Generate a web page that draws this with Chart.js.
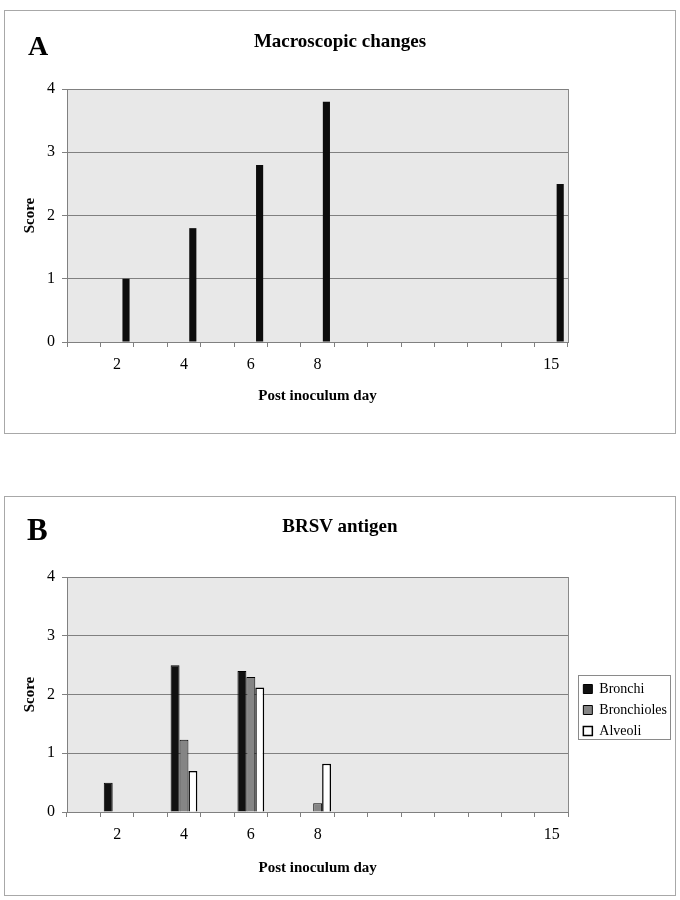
<!DOCTYPE html>
<html>
<head>
<meta charset="utf-8">
<script src="https://cdn.jsdelivr.net/npm/chart.js@4.4.1/dist/chart.umd.min.js"></script>
<style>
  body { margin: 0; background: #fff; width: 680px; height: 900px; position: relative; font-family: "Liberation Serif", serif; }
  .panel { position: absolute; left: 4px; width: 670px; border: 1px solid #a8a8a8; background: #fff; }
  #panelA { top: 10px; height: 422px; }
  #panelB { top: 496px; height: 398px; }
  .panel canvas { position: absolute; left: 0; top: 0; }
  .letter { position: absolute; font-weight: bold; }
  .title { position: absolute; left: 0; width: 100%; text-align: center; font-weight: bold; font-size: 19px; line-height: 19px; }
</style>
</head>
<body>
<div class="panel" id="panelA">
  <canvas id="chartA" width="670" height="422" style="width:670px;height:422px"></canvas>
  <div class="letter" style="left:23px;top:21px;font-size:28px;line-height:28px">A</div>
  <div class="title" style="top:20px">Macroscopic changes</div>
</div>
<div class="panel" id="panelB">
  <canvas id="chartB" width="670" height="398" style="width:670px;height:398px"></canvas>
  <div class="letter" style="left:22px;top:17px;font-size:31px;line-height:31px">B</div>
  <div class="title" style="top:19px">BRSV antigen</div>
</div>
<script>
// x axis runs day 1..15, only some days are labelled
const days = [1, 2, 3, 4, 5, 6, 7, 8, 9, 10, 11, 12, 13, 14, 15];
const labelledDays = [2, 4, 6, 8, 15];

// A: macroscopic changes
const macroDays = [2, 4, 6, 8, 15];
const macroScore = [1.0, 1.8, 2.8, 3.8, 2.5];

// B: BRSV antigen
const antigenDays = [2, 4, 6, 8];
const bronchi = [0.5, 2.5, 2.4, 0];
const bronchioles = [0, 1.23, 2.3, 0.15];
const alveoli = [0, 0.7, 2.12, 0.82];

const serif = "'Liberation Serif', 'Times New Roman', serif";

function toSeries(d, v) {
  return days.map(day => {
    const i = d.indexOf(day);
    return i < 0 ? null : v[i];
  });
}

const plotBackground = {
  id: "plotBackground",
  beforeDraw(chart) {
    const { ctx, chartArea: a } = chart;
    ctx.save();
    ctx.fillStyle = "#e8e8e8";
    ctx.fillRect(a.left, a.top, a.right - a.left, a.bottom - a.top);
    ctx.restore();
  },
  beforeDatasetsDraw(chart) {
    const { ctx, chartArea: a } = chart;
    ctx.save();
    ctx.strokeStyle = "#8a8a8a";
    ctx.lineWidth = 1;
    ctx.beginPath();
    ctx.moveTo(Math.round(a.right) + 0.5, a.top);
    ctx.lineTo(Math.round(a.right) + 0.5, a.bottom);
    ctx.stroke();
    ctx.restore();
  }
};

// nudge the legend into place, like Excel's free-floating legend box
const legendPlace = {
  id: "legendPlace",
  afterLayout(chart) {
    const lg = chart.legend;
    if (!lg) return;
    const h = lg.bottom - lg.top;
    lg.left += 8;
    lg.right += 8;
    lg.top = 178;
    lg.bottom = 178 + h;
  }
};

const legendBox = {
  id: "legendBox",
  afterDraw(chart) {
    const lg = chart.legend;
    if (!lg || !lg.options.display || !lg.legendHitBoxes.length) return;
    const boxes = lg.legendHitBoxes;
    const x0 = Math.min(...boxes.map(b => b.left)) - 5;
    const y0 = Math.min(...boxes.map(b => b.top)) - 7;
    const x1 = Math.max(...boxes.map(b => b.left + b.width)) + 3;
    const y1 = Math.max(...boxes.map(b => b.top + b.height)) + 1;
    const ctx = chart.ctx;
    ctx.save();
    ctx.strokeStyle = "#8a8a8a";
    ctx.lineWidth = 1;
    ctx.strokeRect(Math.round(x0) + 0.5, Math.round(y0) + 0.5, Math.round(x1 - x0), Math.round(y1 - y0));
    ctx.restore();
  }
};

function scales(xHeight, xPad, titlePadBottom) {
  return {
    x: {
      afterFit: s => { s.height = xHeight; },
      grid: { display: true, offset: true, drawOnChartArea: false, tickLength: 5, color: "#808080" },
      border: { color: "#808080" },
      ticks: {
        autoSkip: false, maxRotation: 0, padding: xPad, color: "#000",
        font: { family: serif, size: 16 },
        callback: function (v, i) {
          return labelledDays.includes(days[i]) ? String(days[i]) : "";
        }
      },
      title: {
        display: true, text: "Post inoculum day", color: "#000",
        font: { family: serif, size: 15, weight: "bold" },
        padding: { top: 0, bottom: titlePadBottom }
      }
    },
    y: {
      min: 0, max: 4,
      afterFit: s => { s.width = 62; },
      grid: { color: "#808080", tickLength: 5 },
      border: { color: "#808080" },
      ticks: { stepSize: 1, padding: 7, color: "#000", font: { family: serif, size: 16 } },
      title: {
        display: true, text: "Score", color: "#000",
        font: { family: serif, size: 15, weight: "bold" },
        padding: { top: 16, bottom: 0 }
      }
    }
  };
}

new Chart(document.getElementById("chartA"), {
  type: "bar",
  data: {
    labels: days,
    datasets: [
      { label: "", data: days.map(() => null) },
      { label: "", data: days.map(() => null) },
      {
        label: "Score",
        data: toSeries(macroDays, macroScore),
        backgroundColor: "#0c0c0c",
        borderColor: "#000",
        borderWidth: 0
      }
    ]
  },
  options: {
    responsive: false,
    animation: false,
    layout: { padding: { top: 78, right: 107, left: 0, bottom: 0 } },
    plugins: { legend: { display: false }, tooltip: { enabled: false } },
    datasets: { bar: { barPercentage: 0.8, categoryPercentage: 0.8 } },
    scales: scales(91, 8, 28)
  },
  plugins: [plotBackground]
});

new Chart(document.getElementById("chartB"), {
  type: "bar",
  data: {
    labels: days,
    datasets: [
      {
        label: "Bronchi",
        data: toSeries(antigenDays, bronchi),
        backgroundColor: "#111",
        borderColor: "#000",
        borderWidth: 1
      },
      {
        label: "Bronchioles",
        data: toSeries(antigenDays, bronchioles),
        backgroundColor: "#858585",
        borderColor: "#000",
        borderWidth: 1
      },
      {
        label: "Alveoli",
        data: toSeries(antigenDays, alveoli),
        backgroundColor: "#fff",
        borderColor: "#000",
        borderWidth: 1.5
      }
    ]
  },
  options: {
    responsive: false,
    animation: false,
    layout: { padding: { top: 80, right: 6, left: 0, bottom: 0 } },
    datasets: { bar: { barPercentage: 1.0, categoryPercentage: 0.8 } },
    plugins: {
      tooltip: { enabled: false },
      legend: {
        position: "right",
        align: "start",
        labels: {
          color: "#000",
          boxWidth: 9, boxHeight: 9, padding: 7,
          font: { family: serif, size: 14 }
        }
      }
    },
    scales: scales(83, 8, 18)
  },
  plugins: [plotBackground, legendPlace, legendBox]
});
</script>
</body>
</html>
